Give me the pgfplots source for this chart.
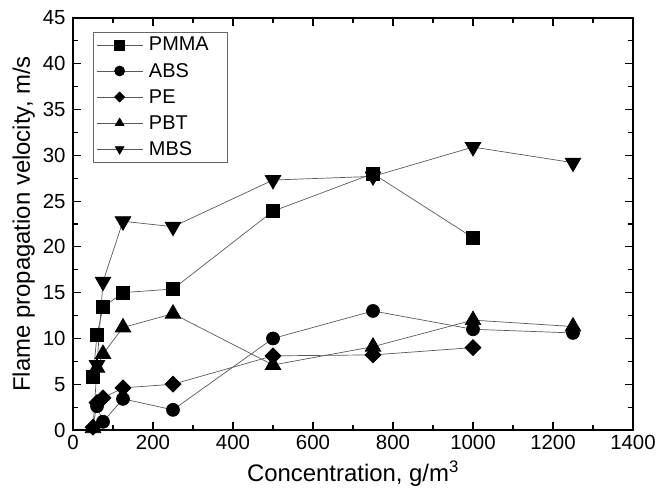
\documentclass[border=0pt]{standalone}
\usepackage{fontspec}
\setmainfont{Liberation Sans}
\usepackage{pgfplots}
\pgfplotsset{compat=1.18}
\begin{document}
\begin{tikzpicture}
\begin{axis}[
  scale only axis, width=560bp, height=412bp,
  xmin=0, xmax=1400, ymin=0, ymax=45,
  xtick={0,200,...,1400}, ytick={0,5,...,45},
  minor x tick num=1, minor y tick num=1,
  tick align=inside, major tick length=8bp, minor tick length=5bp,
  every tick/.style={line width=1.2bp, black},
  axis line style={line width=1.5bp},
  tick label style={font=\fontsize{20.5}{22}\selectfont},
  label style={font=\fontsize{24}{27}\selectfont},
  xticklabel style={yshift=-2bp},
  yticklabel style={xshift=-4bp},
  xlabel style={yshift=-4bp},
  ylabel style={yshift=1bp},
  /pgf/number format/assume math mode=true,
  /pgf/number format/1000 sep={},
  xlabel={Concentration, g/m\textsuperscript{3}},
  ylabel={Flame propagation velocity, m/s},
  legend cell align=left,
  legend style={at={(0,1)}, anchor=north west, xshift=20bp, yshift=-14bp,
    draw=black!60, line width=0.6bp, font=\fontsize{20}{22}\selectfont,
    inner xsep=3bp, inner ysep=3bp, row sep=6.8bp},
  legend image code/.code={\draw[mark repeat=2,mark phase=2,#1,mark size=5bp] plot coordinates {(0bp,0bp) (23bp,0bp) (46bp,0bp)};},
  every axis plot/.append style={black!65, line width=0.7bp},
]
\addplot[black!65, mark=square*, mark size=6.5bp, mark options={fill=black,draw=black}] coordinates {
(50,5.8)(60,10.4)(75,13.4)(125,15.0)(250,15.4)(500,23.9)(750,28.0)(1000,21.0)};
\addlegendentry{\hspace*{4bp}PMMA\rule{14bp}{0pt}}
\addplot[black!65, mark=*, mark size=6.5bp, mark options={fill=black,draw=black}] coordinates {
(60,2.6)(75,0.9)(125,3.4)(250,2.2)(500,10.0)(750,13.0)(1000,11.0)(1250,10.6)};
\addlegendentry{\hspace*{4bp}ABS}
\addplot[black!65, mark=diamond*, mark size=8bp, mark options={fill=black,draw=black,xscale=1.33}] coordinates {
(50,0.3)(60,3.0)(75,3.5)(125,4.6)(250,5.0)(500,8.1)(750,8.2)(1000,9.0)};
\addlegendentry{\hspace*{4bp}PE}
\addplot[black!65, mark=triangle*, mark size=9bp, mark options={fill=black,draw=black}] coordinates {
(50,0.2)(60,6.8)(75,8.3)(125,11.2)(250,12.7)(500,7.1)(750,9.1)(1000,12.0)(1250,11.3)};
\addlegendentry{\hspace*{4bp}PBT}
\addplot[black!65, mark=triangle*, mark size=9bp, mark options={fill=black,draw=black,rotate=180}] coordinates {
(60,7.1)(75,16.2)(125,22.8)(250,22.2)(500,27.3)(750,27.7)(1000,30.9)(1250,29.2)};
\addlegendentry{\hspace*{4bp}MBS}
\end{axis}
\path ([shift={(-73bp,-61bp)}]current axis.south west) rectangle ([shift={(38bp,18bp)}]current axis.north east);
\end{tikzpicture}
\end{document}
